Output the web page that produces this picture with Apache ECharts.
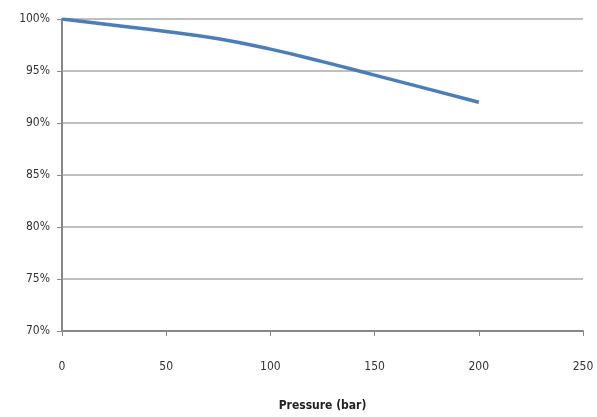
<!DOCTYPE html>
<html><head><meta charset="utf-8">
<script src="https://cdn.jsdelivr.net/npm/echarts@6/dist/echarts.min.js"></script>
<style>html,body{margin:0;padding:0;background:#fff}#c{width:597px;height:417px}</style>
</head><body><div id="c"></div>
<script>
const pressure = [0, 25, 50, 75, 100, 125, 150, 175, 200];
const efficiency = [100, 99.4, 98.8, 98.1, 97.1, 95.9, 94.6, 93.3, 92.0];
const xTitle = 'Pressure (bar)';
const font = '"Liberation Sans Narrow","DejaVu Sans Condensed",sans-serif';
const chart = echarts.init(document.getElementById('c'));
chart.setOption({
  animation: false,
  grid: {left: 62, right: 14, top: 19, bottom: 86, containLabel: false, outerBoundsMode: 'none'},
  xAxis: {
    type: 'value', min: 0, max: 250, interval: 50,
    name: xTitle, nameLocation: 'middle', nameGap: 69,
    nameTextStyle: {fontFamily: font, fontSize: 12, fontWeight: 'bold', color: '#222'},
    axisLine: {show: true, lineStyle: {color: '#888', width: 2}},
    axisTick: {show: true, length: 5, lineStyle: {color: '#888'}},
    axisLabel: {margin: 30, fontFamily: font, fontSize: 12, color: '#333'},
    splitLine: {show: false}
  },
  yAxis: {
    type: 'value', min: 70, max: 100, interval: 5,
    axisLine: {show: true, lineStyle: {color: '#888', width: 2}},
    axisTick: {show: true, length: 5, lineStyle: {color: '#888'}},
    axisLabel: {margin: 12, fontFamily: font, fontSize: 12, color: '#333', formatter: v => v + '%'},
    splitLine: {show: true, lineStyle: {color: '#aaa', width: 1.5}}
  },
  series: [{
    type: 'line', smooth: true, symbol: 'none',
    data: pressure.map((p, i) => [p, efficiency[i]]),
    lineStyle: {color: '#4a7ebb', width: 3.5}
  }]
});
</script></body></html>
